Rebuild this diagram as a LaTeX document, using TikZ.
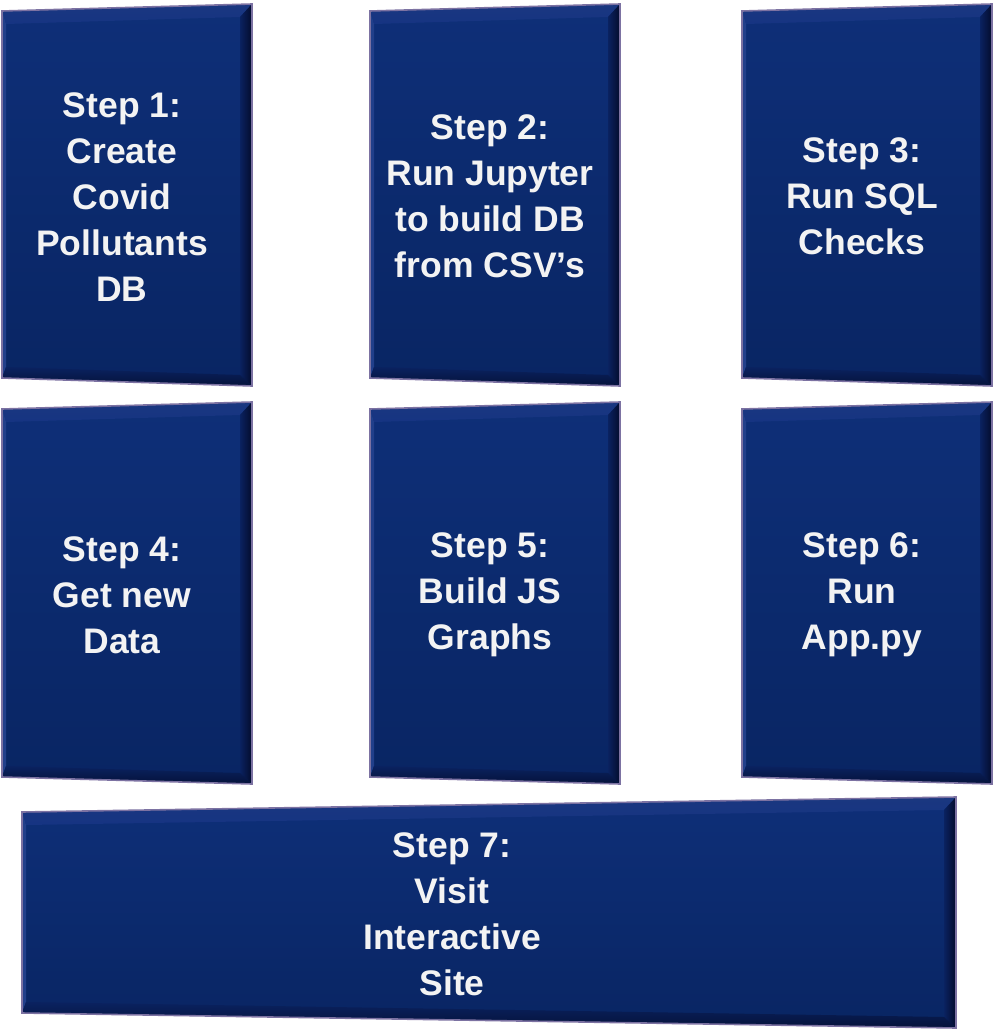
\documentclass[tikz,border=0pt]{standalone}
\usepackage{fontspec}
\setmainfont{Liberation Sans}
\definecolor{facetop}{HTML}{0E2F78}
\definecolor{facebot}{HTML}{092563}
\definecolor{bevtopA}{HTML}{1A3780}
\definecolor{bevtopB}{HTML}{6282C9}
\definecolor{bevtopC}{HTML}{163482}
\definecolor{bevleft}{HTML}{213F8A}
\definecolor{bevrightA}{HTML}{0A2260}
\definecolor{bevrightB}{HTML}{030B2C}
\definecolor{bevbotA}{HTML}{0A2260}
\definecolor{bevbotB}{HTML}{05123A}
\definecolor{rim}{HTML}{7C72A2}
\definecolor{txt}{HTML}{F3F3F3}
\tikzset{
  steptext/.style={text=txt, align=center, inner sep=0pt,
    font=\fontsize{35.5}{46}\selectfont\bfseries},
  rimline/.style={draw=rim, line width=1.6pt, line join=miter}
}
% #1 name, #2 x0, #3 x1, #4 y top-left, #5 y top-right, #6 y bottom-right, #7 y bottom-left, #8 text position, #9 text
\newcommand\bevbox[9]{%
  \coordinate (#1tl) at (#2,#4);
  \coordinate (#1tr) at (#3,#5);
  \coordinate (#1br) at (#3,#6);
  \coordinate (#1bl) at (#2,#7);
  \coordinate (#1itl) at ([shift={(4,13)}]#1tl);
  \coordinate (#1itr) at ([shift={(-12,13)}]#1tr);
  \coordinate (#1ibr) at ([shift={(-12,-11)}]#1br);
  \coordinate (#1ibl) at ([shift={(4,-11)}]#1bl);
  \shade[top color=facetop, bottom color=facebot]
    (#1tl) -- (#1tr) -- (#1br) -- (#1bl) -- cycle;
  \shade[top color=bevtopA, middle color=bevtopB, bottom color=bevtopC]
    (#1tl) -- (#1tr) -- (#1itr) -- (#1itl) -- cycle;
  \fill[bevleft] (#1tl) -- (#1itl) -- (#1ibl) -- (#1bl) -- cycle;
  \shade[left color=bevrightA, right color=bevrightB]
    (#1tr) -- (#1br) -- (#1ibr) -- (#1itr) -- cycle;
  \shade[top color=bevbotA, bottom color=bevbotB]
    (#1bl) -- (#1ibl) -- (#1ibr) -- (#1br) -- cycle;
  \draw[rimline] (#1tl) -- (#1tr) -- (#1br) -- (#1bl) -- cycle;
  \node[steptext] (#1) at #8 {#9};
}
\begin{document}
\begin{tikzpicture}[x=1pt, y=-1pt]
  \useasboundingbox (0,0) rectangle (995,1035);
  \bevbox{s1}{2}{252}{11}{4}{386}{378}{(122,197)}{Step 1:\\Create\\Covid\\Pollutants\\DB}
  \bevbox{s2}{370}{620}{11}{4}{386}{378}{(490,196)}{Step 2:\\Run Jupyter\\to build DB\\from CSV’s}
  \bevbox{s3}{742}{992}{11}{4}{386}{378}{(862,196)}{Step 3:\\Run SQL\\Checks}
  \bevbox{s4}{2}{252}{409}{402}{784}{777}{(122,595)}{Step 4:\\Get new\\Data}
  \bevbox{s5}{370}{620}{409}{402}{784}{777}{(490,595)}{Step 5:\\Build JS\\Graphs}
  \bevbox{s6}{742}{992}{409}{402}{784}{777}{(862,595)}{Step 6:\\Run\\App.py}
  \bevbox{s7}{22}{956}{812}{797}{1028}{1013}{(452,914)}{Step 7:\\Visit\\Interactive\\Site}
\end{tikzpicture}
\end{document}
